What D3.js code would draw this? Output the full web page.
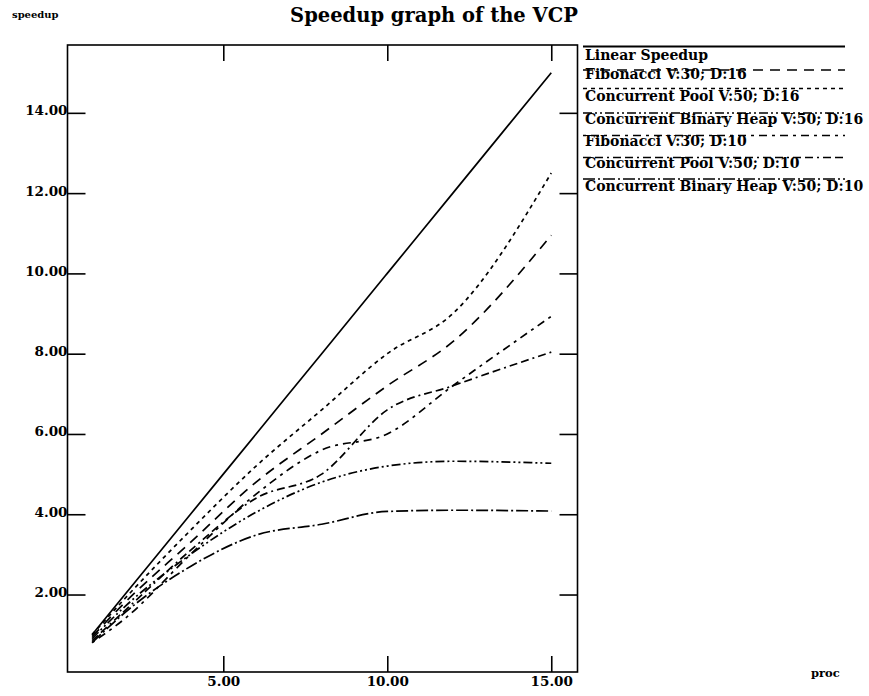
<!DOCTYPE html>
<html><head><meta charset="utf-8">
<script src="https://cdn.jsdelivr.net/npm/d3@7"></script>
<style>
body{margin:0;background:#fff;}
svg text{font-family:"DejaVu Serif",serif;font-weight:bold;fill:#000;}
</style></head>
<body><svg id="c" width="869" height="696"></svg>
<script>
const procs = [1, 2, 4, 6, 8, 10, 12, 15];
const linear = [1, 2, 4, 6, 8, 10, 12, 15];
const fib16 = [0.95, 1.8, 3.3, 4.8, 6.0, 7.2, 8.3, 10.95];
const cp16  = [1.0, 1.9, 3.6, 5.2, 6.6, 8.0, 9.0, 12.5];
const cbh16 = [0.9, 1.7, 3.0, 4.05, 4.8, 5.2, 5.32, 5.27];
const fib10 = [0.8, 1.4, 3.0, 4.5, 5.6, 6.0, 7.2, 8.93];
const cp10  = [0.85, 1.6, 3.1, 4.4, 5.0, 6.6, 7.2, 8.04];
const cbh10 = [0.8, 1.55, 2.7, 3.48, 3.75, 4.07, 4.1, 4.08];
const seriesNames = ["Linear Speedup","Fibonacci V:30; D:16","Concurrent Pool V:50; D:16",
  "Concurrent Binary Heap V:50; D:16","Fibonacci V:30; D:10","Concurrent Pool V:50; D:10",
  "Concurrent Binary Heap V:50; D:10"];
const xTicks = [5, 10, 15];
const yTicks = [2, 4, 6, 8, 10, 12, 14];
const title = "Speedup graph of the VCP";

const seriesValues = [linear, fib16, cp16, cbh16, fib10, cp10, cbh10];
const dashes = [null, "10,7", "4,4", "9,3,2,3,2,3", "3,5,8,5", "8,4,8,4,2,4", "12,3,2,3"];

const svg = d3.select("#c");
const L = 67.5, R = 577.5, T = 45, B = 672;
const x = d3.scaleLinear().domain([0.25, 15.8]).range([L, R]);
const y = d3.scaleLinear().domain([0.07, 15.69]).range([B, T]);

// frame
svg.append("rect").attr("x", L).attr("y", T).attr("width", R - L).attr("height", B - T)
  .attr("fill", "none").attr("stroke", "#000").attr("stroke-width", 1.6);

const fmt = d3.format(".2f");
const gB = svg.append("g").attr("transform", `translate(0,${B})`)
  .call(d3.axisBottom(x).tickValues(xTicks).tickSize(-16).tickPadding(2).tickFormat(fmt));
const gT = svg.append("g").attr("transform", `translate(0,${T})`)
  .call(d3.axisTop(x).tickValues(xTicks).tickSize(-16).tickFormat(""));
const gL = svg.append("g").attr("transform", `translate(${L},0)`)
  .call(d3.axisLeft(y).tickValues(yTicks).tickSize(-18).tickPadding(0).tickFormat(fmt));
const gR = svg.append("g").attr("transform", `translate(${R},0)`)
  .call(d3.axisRight(y).tickValues(yTicks).tickSize(-18).tickFormat(""));
[gB, gT, gL, gR].forEach(g => {
  g.select(".domain").remove();
  g.selectAll(".tick line").attr("stroke", "#000").attr("stroke-width", 1.6);
  g.selectAll("text").attr("font-family", "DejaVu Serif").attr("font-weight", "bold")
    .attr("font-size", 13.5).attr("fill", "#000");
});
gB.selectAll(".tick text").attr("dy", "0.9em");
gL.selectAll(".tick text").attr("dy", "0.15em");

// lines
const line = d3.line().x((d, i) => x(procs[i])).y(d => y(d)).curve(d3.curveMonotoneX);
seriesValues.forEach((vals, k) => {
  svg.append("path").datum(vals).attr("d", line).attr("fill", "none")
    .attr("stroke", "#000").attr("stroke-width", 1.7)
    .attr("stroke-dasharray", dashes[k]);
});

// legend
const lgX = 585, lgEnd = 845;
const baselines = [60, 79, 101, 124, 146, 168, 191];
const sampleY = [46.5, 70, 88.5, 113, 135.5, 157.5, 179];
seriesNames.forEach((n, k) => {
  svg.append("line").attr("x1", lgX - 2).attr("x2", lgEnd)
    .attr("y1", sampleY[k]).attr("y2", sampleY[k])
    .attr("stroke", "#000").attr("stroke-width", k === 0 ? 2.2 : 1.7)
    .attr("stroke-dasharray", dashes[k]);
  svg.append("text").attr("x", lgX).attr("y", baselines[k]).attr("font-size", 14).text(n);
});

// titles
svg.append("text").attr("x", 434).attr("y", 22).attr("text-anchor", "middle")
  .attr("font-size", 19.5).text(title);
svg.append("text").attr("x", 12).attr("y", 18).attr("font-size", 10).text("speedup");
svg.append("text").attr("x", 811).attr("y", 677).attr("font-size", 11.5).text("proc");
</script></body></html>
